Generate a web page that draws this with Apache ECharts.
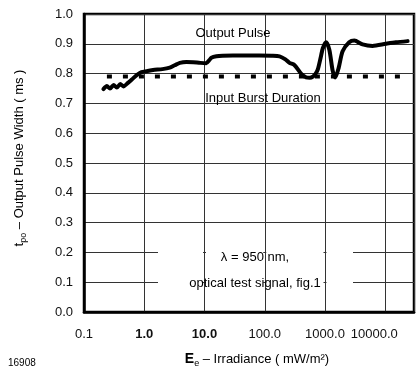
<!DOCTYPE html>
<html><head><meta charset="utf-8">
<script src="https://cdn.jsdelivr.net/npm/echarts@6/dist/echarts.min.js"></script>
<style>html,body{margin:0;padding:0;background:#fff}#c{width:418px;height:373px}</style>
</head><body><div id="c"></div>
<script>
const irradiance = [0.21,0.24,0.27,0.31,0.35,0.40,0.45,0.53,0.62,0.75,0.9,1.1,1.4,2.0,2.65,3.2,3.9,5,6.5,8.5,10.7,12,13,15.8,20,29.7,50,81,130,176,220,257,310,400,485,560,630,700,760,850,920,1040,1180,1340,1480,1690,1960,2520,3070,4200,6150,10200,15000,23500];
const pulseWidth = [0.748,0.758,0.750,0.762,0.753,0.765,0.757,0.768,0.780,0.795,0.805,0.808,0.812,0.815,0.820,0.828,0.836,0.839,0.838,0.836,0.835,0.845,0.853,0.858,0.860,0.861,0.861,0.861,0.860,0.858,0.848,0.836,0.829,0.800,0.787,0.786,0.790,0.800,0.814,0.855,0.885,0.905,0.880,0.810,0.787,0.820,0.875,0.905,0.911,0.898,0.893,0.900,0.905,0.909];
const burstX = [0.24, 19000];
const burstY = [0.79, 0.79];
const xTickLabels = ['0.1','1.0','10.0','100.0','1000.0','10000.0'];
const yTickLabels = ['0.0','0.1','0.2','0.3','0.4','0.5','0.6','0.7','0.8','0.9','1.0'];

const FONT = 'Liberation Sans, Arial, sans-serif';
const chart = echarts.init(document.getElementById('c'), null, {renderer:'canvas'});
const pulseData = irradiance.map((x,i)=>[x,pulseWidth[i]]);
const burstData = burstX.map((x,i)=>[x,burstY[i]]);

chart.setOption({
  backgroundColor:'#fff',
  animation:false,
  grid:{left:84,right:4,top:14,bottom:58,show:true,borderColor:'#000',borderWidth:2.5,backgroundColor:'transparent'},
  xAxis:{
    type:'log', logBase:10, min:0.1, max:30000,
    axisLine:{show:true,lineStyle:{color:'#000',width:2.5}},
    axisTick:{show:false},
    splitLine:{show:true,lineStyle:{color:'#333',width:1}},
    minorSplitLine:{show:false},
    axisLabel:{
      margin:16, fontFamily:FONT, fontSize:13, color:'#111',
      showMaxLabel:false,
      formatter:function(v){
        const e=Math.log10(v); const r=Math.round(e);
        if(Math.abs(e-r)>0.01) return '';
        const idx=r+1;
        if(idx<0||idx>=xTickLabels.length) return '';
        const t=xTickLabels[idx];
        if(idx===1||idx===2) return '{b|'+t+'}';
        if(idx===5) return '{l|'+t+'}';
        return t;
      },
      rich:{
        b:{fontFamily:FONT,fontSize:13,fontWeight:'bold',color:'#111'},
        l:{fontFamily:FONT,fontSize:13,color:'#111',padding:[0,22,0,0]}
      }
    },
    name:'{eb|E}{es|e}{n| – Irradiance ( mW/m²)}',
    nameLocation:'middle', nameGap:38,
    nameTextStyle:{
      padding:[0,0,0,16],
      rich:{
        eb:{fontFamily:FONT,fontSize:14,fontWeight:'bold',color:'#000',verticalAlign:'middle'},
        es:{fontFamily:FONT,fontSize:9,color:'#000',padding:[9,0,0,0],verticalAlign:'middle'},
        n:{fontFamily:FONT,fontSize:13,color:'#000',verticalAlign:'middle'}
      }
    }
  },
  yAxis:{
    type:'value', min:0, max:1, interval:0.1,
    axisLine:{show:true,lineStyle:{color:'#000',width:2.5}},
    axisTick:{show:false},
    splitLine:{show:true,lineStyle:{color:'#333',width:1}},
    axisLabel:{margin:11,fontFamily:FONT,fontSize:13,color:'#111',
      formatter:function(v){return yTickLabels[Math.round(v*10)];}},
    name:'{n|t}{s|po}{n| – Output Pulse Width ( ms )}',
    nameLocation:'middle', nameGap:56,
    nameTextStyle:{
      padding:[0,0,0,10],
      rich:{
        n:{fontFamily:FONT,fontSize:13,color:'#000',verticalAlign:'middle'},
        s:{fontFamily:FONT,fontSize:9,color:'#000',padding:[9,0,0,0],verticalAlign:'middle'}
      }
    }
  },
  series:[
    {type:'line',data:burstData,symbol:'none',z:3,
      lineStyle:{color:'#000',width:4,type:[5,11],cap:'butt'}},
    {type:'line',data:pulseData,symbol:'none',smooth:0.25,z:4,
      lineStyle:{color:'#000',width:4,cap:'round',join:'round'}}
  ]
});

function px(x,y){return chart.convertToPixel({gridIndex:0},[x,y]);}
const yA=px(1,0.2)[1], yB=px(1,0.1)[1];
const xl=158, xr=353;
const cuts=[xl];
[1,10,100,1000].forEach(function(d){const p=px(d,0.5)[0]; if(p>xl&&p<xr){cuts.push(p-1.5);cuts.push(p+1.5);}});
cuts.push(xr);
const g=[];
for(let i=0;i<cuts.length;i+=2){
  [yA,yB].forEach(function(yy){
    g.push({type:'rect',z:10,shape:{x:cuts[i],y:yy-2,width:cuts[i+1]-cuts[i],height:4},style:{fill:'#fff'}});
  });
}
g.push(
  {type:'text',z:11,x:255,y:257,style:{text:'λ = 950 nm,',font:'13px '+FONT,fill:'#000',align:'center',verticalAlign:'middle'}},
  {type:'text',z:11,x:255,y:283,style:{text:'optical test signal, fig.1',font:'13px '+FONT,fill:'#000',align:'center',verticalAlign:'middle'}},
  {type:'text',z:11,x:233,y:33,style:{text:'Output Pulse',font:'13px '+FONT,fill:'#000',align:'center',verticalAlign:'middle'}},
  {type:'text',z:11,x:263,y:98,style:{text:'Input Burst Duration',font:'13px '+FONT,fill:'#000',align:'center',verticalAlign:'middle'}},
  {type:'text',z:11,x:8,y:363,style:{text:'16908',font:'10px '+FONT,fill:'#000',align:'left',verticalAlign:'middle'}}
);
chart.setOption({graphic:g});
</script></body></html>
